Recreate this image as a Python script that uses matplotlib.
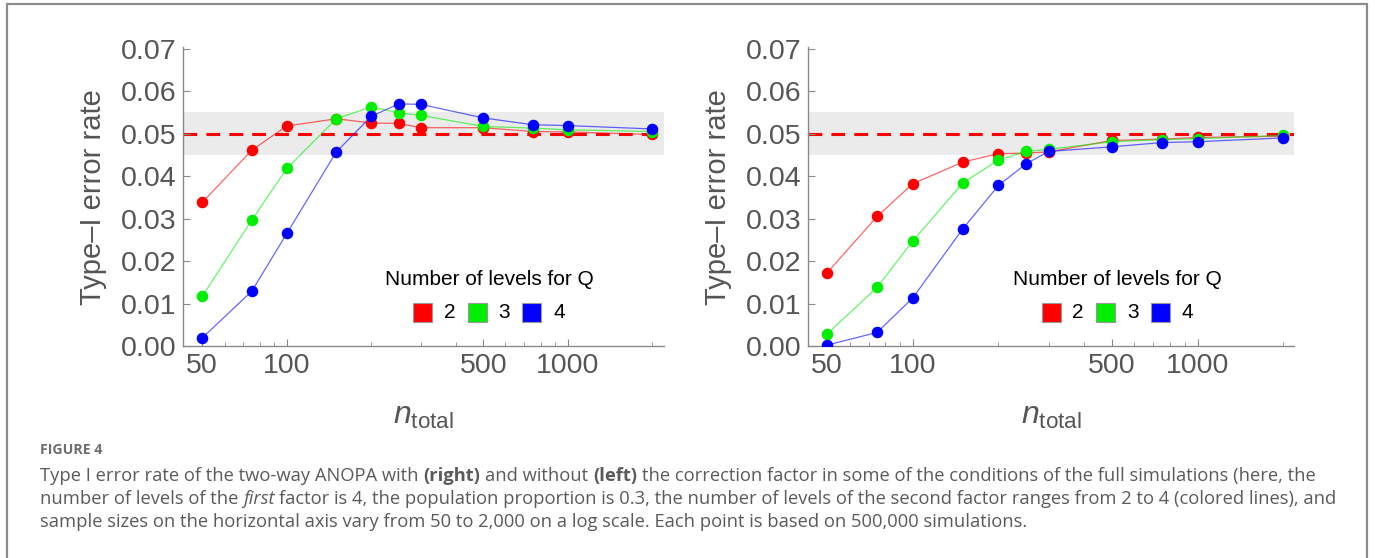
import matplotlib
matplotlib.use("Agg")
import matplotlib.pyplot as plt
from matplotlib.patches import Rectangle
from matplotlib.ticker import FixedLocator, NullFormatter

# sample sizes on the x axis
n_total = [50, 75, 100, 150, 200, 250, 300, 500, 750, 1000, 2000]

# left panel: without correction factor
left_q2 = [0.0338, 0.0461, 0.0518, 0.0535, 0.0525, 0.0524, 0.0514, 0.0514, 0.0505, 0.0504, 0.0498]
left_q3 = [0.0117, 0.0296, 0.0418, 0.0535, 0.0563, 0.0549, 0.0543, 0.0517, 0.0513, 0.0509, 0.0505]
left_q4 = [0.0019, 0.0129, 0.0265, 0.0457, 0.0541, 0.0570, 0.0569, 0.0537, 0.0521, 0.0519, 0.0511]

# right panel: with correction factor
right_q2 = [0.0172, 0.0305, 0.0382, 0.0433, 0.0453, 0.0454, 0.0457, 0.0484, 0.0487, 0.0491, 0.0494]
right_q3 = [0.0028, 0.0138, 0.0247, 0.0384, 0.0438, 0.0458, 0.0463, 0.0481, 0.0486, 0.0488, 0.0496]
right_q4 = [0.0002, 0.0032, 0.0113, 0.0276, 0.0378, 0.0429, 0.0458, 0.0469, 0.0479, 0.0481, 0.0490]

levels = ["2", "3", "4"]
colors = ["#ff0000", "#00ee00", "#0000ff"]
x_ticks = [50, 100, 500, 1000]
y_ticks = [0.00, 0.01, 0.02, 0.03, 0.04, 0.05, 0.06, 0.07]

GRAY_TXT = "#555555"
GRAY_AX = "#8a8a8a"
W, H = 1375, 558

fig = plt.figure(figsize=(W / 100, H / 100), dpi=100)
fig.patch.set_facecolor("white")


def px_rect(x0, y0, x1, y1):
    """pixel box (top-left origin) -> figure fraction rect"""
    return [x0 / W, 1 - y1 / H, (x1 - x0) / W, (y1 - y0) / H]


def draw_panel(rect, series, xlim):
    ax = fig.add_axes(rect)
    ax.axhspan(0.045, 0.055, color="#ebebeb", lw=0, zorder=0)
    ax.axhline(0.05, color="#ff0000", lw=2.2, dashes=(4.5, 3), zorder=1)
    for vals, c in zip(series, colors):
        ax.plot(n_total, vals, color=c, lw=0.9, alpha=0.6, zorder=2)
        ax.plot(n_total, vals, ls="none", marker="o", ms=7.3, color=c, mec=c, zorder=3)

    ax.set_xscale("log")
    ax.set_xlim(*xlim)
    ax.set_ylim(0, 0.0704)
    ax.xaxis.set_major_locator(FixedLocator(x_ticks))
    ax.set_xticklabels([str(t) for t in x_ticks])
    minors = [60, 70, 80, 90, 200, 300, 400, 600, 700, 800, 900, 2000]
    ax.xaxis.set_minor_locator(FixedLocator(minors))
    ax.xaxis.set_minor_formatter(NullFormatter())
    ax.set_yticks(y_ticks)
    ax.set_yticklabels(["%.2f" % t for t in y_ticks])

    for s in ["top", "right"]:
        ax.spines[s].set_visible(False)
    for s in ["left", "bottom"]:
        ax.spines[s].set_color(GRAY_AX)
        ax.spines[s].set_linewidth(1.0)
    ax.tick_params(which="major", direction="in", length=5, width=0.8, color=GRAY_AX,
                   labelsize=20.5, labelcolor=GRAY_TXT)
    ax.tick_params(which="minor", direction="in", length=3, width=0.6, color=GRAY_AX)
    ax.tick_params(axis="y", pad=5)
    ax.tick_params(axis="x", pad=5)

    ax.set_ylabel("Type\u2013I error rate", fontsize=21, color=GRAY_TXT)
    ax.yaxis.set_label_coords(-0.157, 0.497)
    ax.set_xlabel(r"$n_{\mathrm{total}}$", fontsize=23, color=GRAY_TXT)
    ax.xaxis.set_label_coords(0.5, -0.185)

    # legend drawn by hand (title + three swatches)
    aw = rect[2] * W
    ah = rect[3] * H
    cx = 0.636
    ax.text(cx, 0.221, "Number of levels for Q", transform=ax.transAxes,
            ha="center", va="center", fontsize=15, color="black")
    sw = 19
    for i, (lab, c) in enumerate(zip(levels, colors)):
        sx = cx + (-66 + 54.5 * i) / aw
        sy = (346 - 312) / 299
        ax.add_patch(Rectangle((sx - sw / 2 / aw, sy - sw / 2 / ah), sw / aw, sw / ah,
                               transform=ax.transAxes, facecolor=c, edgecolor="#999999",
                               lw=0.8, clip_on=False, zorder=5))
        ax.text(sx + 27 / aw, sy, lab, transform=ax.transAxes, ha="center", va="center",
                fontsize=15, color="black")
    return ax


plt.rcParams["font.family"] = ["Liberation Sans", "DejaVu Sans"]
plt.rcParams["mathtext.fontset"] = "custom"
plt.rcParams["mathtext.rm"] = "Liberation Sans"
plt.rcParams["mathtext.it"] = "Liberation Sans:italic"

draw_panel(px_rect(183, 47, 664, 346), [left_q2, left_q3, left_q4], (42.7, 2200))
draw_panel(px_rect(808, 47, 1294, 346), [right_q2, right_q3, right_q4], (42.9, 2180))

# outer frame
fig.add_artist(Rectangle((7 / W, -0.05), (1367 - 7) / W, 1.05 - 4 / H,
                         transform=fig.transFigure, fill=False, edgecolor="#8c8c8c", lw=1.6))

# caption
cap_font = ["Open Sans", "DejaVu Sans"]
cap_size = 13.2
renderer = fig.canvas.get_renderer()

fig.text(40 / W, 1 - 450 / H, "FIGURE 4", fontsize=10.2, fontweight="bold",
         color="#6e6e6e", family=cap_font, va="center")

caption_lines = [
    [("Type I error rate of the two-way ANOPA with ", "normal", "normal"), ("(right)", "bold", "normal"),
     (" and without ", "normal", "normal"), ("(left)", "bold", "normal"),
     (" the correction factor in some of the conditions of the full simulations (here, the", "normal", "normal")],
    [("number of levels of the ", "normal", "normal"), ("first", "normal", "italic"),
     (" factor is 4, the population proportion is 0.3, the number of levels of the second factor ranges from 2 to 4 (colored lines), and",
      "normal", "normal")],
    [("sample sizes on the horizontal axis vary from 50 to 2,000 on a log scale. Each point is based on 500,000 simulations.",
      "normal", "normal")],
]
line_y = [476, 499, 522]


def text_width(s, weight, style):
    t = fig.text(0, 0, s, fontsize=cap_size, family=cap_font, fontweight=weight, fontstyle=style)
    w = t.get_window_extent(renderer).width
    t.remove()
    return w


space_w = text_width("a a", "normal", "normal") - text_width("aa", "normal", "normal")

for runs, y in zip(caption_lines, line_y):
    x = 40.0
    for s, weight, style in runs:
        if s.startswith(" "):
            x += space_w
        core = s.strip()
        t = fig.text(x / W, 1 - y / H, core, fontsize=cap_size, family=cap_font,
                     fontweight=weight, fontstyle=style, color="#5a5a5a", va="center")
        x += t.get_window_extent(renderer).width
        if s.endswith(" "):
            x += space_w

fig.savefig("out.png", dpi=100, facecolor="white")
